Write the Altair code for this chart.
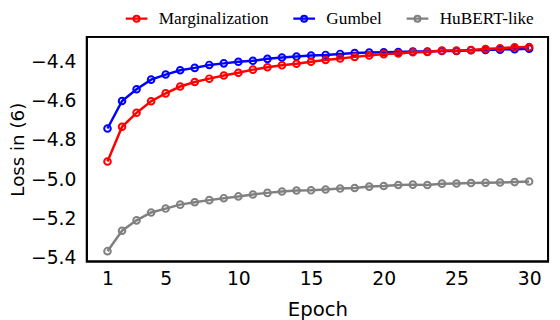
import altair as alt
import pandas as pd

epochs = list(range(1, 31))
series_names = ["Marginalization", "Gumbel", "HuBERT-like"]
series_colors = ["#ff0000", "#0000ff", "#808080"]

marginalization = [-4.910, -4.733, -4.662, -4.603, -4.563, -4.528, -4.505, -4.488, -4.472, -4.458,
                   -4.442, -4.430, -4.420, -4.412, -4.402, -4.393, -4.385, -4.377, -4.370, -4.363,
                   -4.360, -4.353, -4.352, -4.345, -4.345, -4.342, -4.337, -4.333, -4.328, -4.327]
gumbel = [-4.742, -4.602, -4.542, -4.493, -4.467, -4.445, -4.433, -4.418, -4.410, -4.402,
          -4.397, -4.387, -4.380, -4.375, -4.370, -4.367, -4.362, -4.357, -4.355, -4.353,
          -4.352, -4.350, -4.350, -4.347, -4.347, -4.343, -4.342, -4.340, -4.338, -4.335]
hubert = [-5.367, -5.263, -5.210, -5.170, -5.150, -5.130, -5.118, -5.107, -5.097, -5.088,
          -5.078, -5.070, -5.063, -5.058, -5.057, -5.053, -5.048, -5.045, -5.038, -5.035,
          -5.030, -5.028, -5.030, -5.023, -5.022, -5.020, -5.018, -5.017, -5.015, -5.012]

x_ticks = [1, 5, 10, 15, 20, 25, 30]
y_ticks = [-4.4, -4.6, -4.8, -5.0, -5.2, -5.4]
x_domain = [-0.42, 31.3]
y_domain = [-5.42, -4.275]

rows = []
for name, vals in zip(series_names, [marginalization, gumbel, hubert]):
    for e, v in zip(epochs, vals):
        rows.append({"Epoch": e, "Loss": v, "Series": name})
df = pd.DataFrame(rows)

W, H = 468, 228
legend_path = "M-1,0L1,0M0.27,0A0.27,0.27 0 1,1 -0.27,0A0.27,0.27 0 1,1 0.27,0"

x = alt.X("Epoch:Q", scale=alt.Scale(domain=x_domain, nice=False, zero=False),
          axis=alt.Axis(values=x_ticks, title="Epoch", grid=False, ticks=False, domain=False,
                        labelFontSize=19, titleFontSize=20, labelFont="DejaVu Sans",
                        titleFont="DejaVu Sans", labelColor="black", titleColor="black",
                        titleFontWeight="normal", labelPadding=8, titlePadding=12,
                        labelFlush=False))
y = alt.Y("Loss:Q", scale=alt.Scale(domain=y_domain, nice=False, zero=False),
          axis=alt.Axis(values=y_ticks, format=".1f", title="Loss in (6)", grid=False,
                        ticks=False, domain=False, labelFontSize=19, titleFontSize=18.5,
                        labelFont="DejaVu Sans", titleFont="DejaVu Sans",
                        labelColor="black", titleColor="black", titleFontWeight="normal",
                        labelPadding=11, titlePadding=3, labelFlush=False))
color = alt.Color("Series:N",
                  scale=alt.Scale(domain=series_names, range=series_colors),
                  legend=alt.Legend(title=None, orient="none", direction="horizontal",
                                    legendX=38, legendY=-31, padding=0,
                                    symbolType=legend_path, symbolSize=484,
                                    symbolStrokeWidth=2.2, labelFont="Liberation Serif",
                                    labelFontSize=17.5, labelColor="black",
                                    columnPadding=20, labelOffset=10))

frame_df = pd.DataFrame({"x0": [x_domain[0]], "x1": [x_domain[1]],
                         "y0": [y_domain[0]], "y1": [y_domain[1]]})
frame = alt.Chart(frame_df).mark_rect(fill="transparent", stroke="#000000",
                                      strokeWidth=2, opacity=1).encode(
    x=alt.X("x0:Q"), x2="x1:Q", y=alt.Y("y0:Q"), y2="y1:Q")

layers = [frame]
for name in ["HuBERT-like", "Gumbel", "Marginalization"]:
    base = alt.Chart(df).transform_filter(alt.datum.Series == name).encode(x=x, y=y, color=color)
    layers.append(base.mark_line(strokeWidth=2.5))
    layers.append(base.mark_point(filled=False, size=45, strokeWidth=2, opacity=1))

chart = alt.layer(*layers).properties(
    width=W, height=H,
    background="white",
    autosize=alt.AutoSizeParams(type="none"),
    padding={"left": 80, "top": 27, "right": 4, "bottom": 57},
).configure_view(stroke="#000000", strokeWidth=2, strokeOpacity=1)

chart.save("out.html", embed_options={"renderer": "svg", "actions": False})
